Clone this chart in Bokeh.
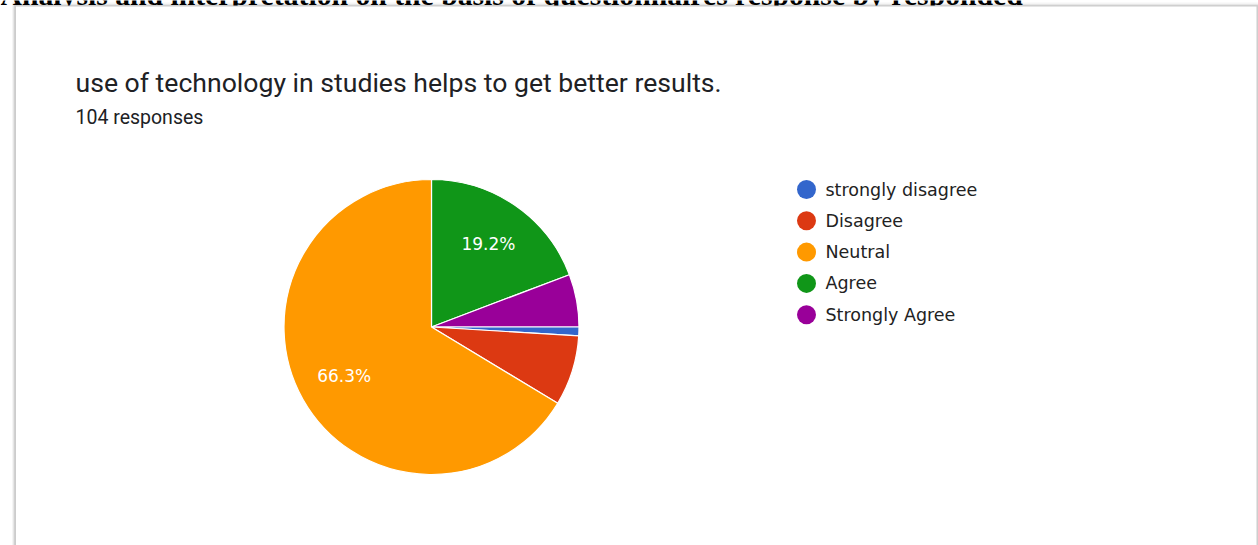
import numpy as np
from bokeh.plotting import figure
from bokeh.models import Range1d, GlobalInlineStyleSheet
from bokeh.core.properties import value
from bokeh.embed import file_html
from bokeh.resources import INLINE

# ---- data ----
categories = ["strongly disagree", "Disagree", "Neutral", "Agree", "Strongly Agree"]
counts = [1, 8, 69, 20, 6]
colors = ["#3366cc", "#dc3912", "#ff9900", "#109618", "#990099"]
slice_order = ["Agree", "Strongly Agree", "strongly disagree", "Disagree", "Neutral"]
total_responses = 104
question = "use of technology in studies helps to get better results."
page_heading = "Analysis and interpretation on the basis of questionnaires response by responded"

# ---- layout ----
W, H = 1258, 545
cx, cy, R = 431, 326.5, 147.5


def Y(py):
    return H - py


p = figure(width=W, height=H, x_range=Range1d(0, W), y_range=Range1d(0, H),
           output_backend="svg", toolbar_location=None, min_border=0)
p.axis.visible = False
p.grid.visible = False
p.outline_line_color = None
p.background_fill_color = "white"
p.border_fill_color = "white"
p.stylesheets = [GlobalInlineStyleSheet(css="html,body{margin:0 !important;padding:0;overflow:hidden;}")]

# page heading (partly cut off at top)
p.text(x=[0], y=[Y(-5.5)], text=[page_heading], text_font=value("Liberation Serif"),
       text_font_style="bold", text_font_size="29.7px", text_baseline="alphabetic",
       text_color="black")

# card with shadow
p.quad(left=[11.5], right=[W + 5], top=[Y(2)], bottom=[-20], fill_color="black",
       fill_alpha=0.04, line_color=None)
p.quad(left=[12.5], right=[W + 5], top=[Y(3.5)], bottom=[-20], fill_color="black",
       fill_alpha=0.06, line_color=None)
p.quad(left=[13.5], right=[W + 5], top=[Y(4.5)], bottom=[-20], fill_color="black",
       fill_alpha=0.09, line_color=None)
p.quad(left=[15], right=[1256.5], top=[Y(5.5)], bottom=[-20], fill_color="white",
       line_color="#cccccc", line_width=1)

# titles
p.text(x=[75], y=[Y(82)], text=[question], text_font=value("Roboto"),
       text_font_size="26.6px", text_baseline="alphabetic", text_color="#202124")
p.text(x=[75], y=[Y(116.5)], text=[f"{total_responses} responses"], text_font=value("Roboto"),
       text_font_size="19.5px", text_baseline="alphabetic", text_color="#202124")

# pie
cnt = dict(zip(categories, counts))
col = dict(zip(categories, colors))
ordered = np.array([cnt[c] for c in slice_order], dtype=float)
frac = ordered / ordered.sum()
ends = np.cumsum(frac) * 2 * np.pi
starts = ends - frac * 2 * np.pi
p.wedge(x=cx, y=Y(cy), radius=R, radius_units="screen",
        start_angle=list(np.pi / 2 - starts), end_angle=list(np.pi / 2 - ends),
        direction="clock", fill_color=[col[c] for c in slice_order],
        line_color="white", line_width=1.2)

mids = (starts + ends) / 2
lab_r = 0.68 * R
show = frac >= 0.1
p.text(x=list(cx + lab_r * np.sin(mids[show])), y=list(Y(cy) + lab_r * np.cos(mids[show])),
       text=[f"{f * 100:.1f}%" for f in frac[show]], text_font=value("DejaVu Sans"),
       text_font_size="17px", text_align="center", text_baseline="middle",
       text_color="white")

# legend
ly = [Y(189 + i * 31.3) for i in range(len(categories))]
p.scatter(x=[806] * len(categories), y=ly, size=19, marker="circle",
          fill_color=colors, line_color=None)
p.text(x=[825] * len(categories), y=ly, text=categories, text_font=value("DejaVu Sans"),
       text_font_size="17.5px", text_baseline="middle", text_color="#222222")

open("out.html", "w").write(file_html(p, INLINE))
